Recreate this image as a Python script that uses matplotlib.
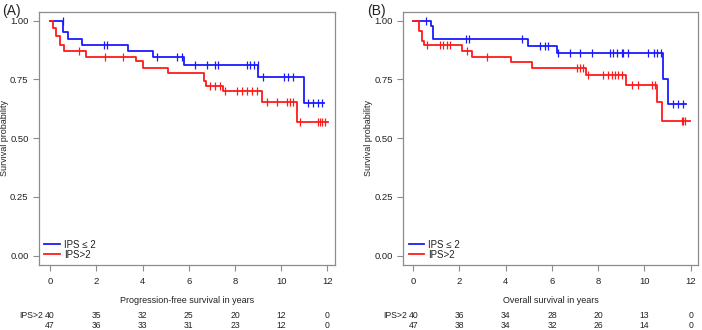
import numpy as np
import matplotlib
matplotlib.use("Agg")
import matplotlib.pyplot as plt
from matplotlib import transforms

plt.rcParams['font.family'] = ['Liberation Sans', 'DejaVu Sans']

# (A) progression-free survival
pfs_low_t = [0, 0.55, 0.79, 1.40, 3.36, 4.47, 5.78, 9.01, 10.99, 11.83]
pfs_low_s = [1.0, 0.95, 0.922, 0.896, 0.871, 0.844, 0.811, 0.759, 0.648, 0.648]
pfs_low_cens = [0.54, 2.35, 2.45, 4.61, 5.48, 5.70, 6.27, 6.78, 7.14, 7.28,
                8.51, 8.65, 8.83, 8.99, 9.23, 10.10, 10.31, 10.53,
                11.18, 11.39, 11.61, 11.76]
pfs_high_t = [0, 0.14, 0.27, 0.45, 0.60, 1.56, 3.72, 4.04, 5.12, 6.66, 6.74,
              7.47, 9.19, 10.70, 12.04]
pfs_high_s = [1.0, 0.967, 0.936, 0.894, 0.872, 0.847, 0.826, 0.80, 0.776,
              0.745, 0.723, 0.702, 0.655, 0.57, 0.57]
pfs_high_cens = [1.25, 2.38, 3.15, 6.92, 7.14, 7.36, 7.58, 8.08, 8.29, 8.51,
                 8.73, 8.94, 9.38, 9.81, 10.24, 10.38, 10.53, 10.82,
                 11.61, 11.68, 11.76, 11.90]
pfs_risk_low = [40, 35, 32, 25, 20, 12, 0]
pfs_risk_high = [47, 36, 33, 31, 23, 12, 0]

# (B) overall survival
os_low_t = [0, 0.76, 0.87, 4.95, 6.23, 10.82, 11.03, 11.80]
os_low_s = [1.0, 0.975, 0.92, 0.892, 0.864, 0.752, 0.645, 0.645]
os_low_cens = [0.55, 2.28, 2.42, 4.69, 5.48, 5.70, 5.84, 6.27, 6.78, 7.21,
               7.72, 8.51, 8.65, 8.80, 9.01, 9.09, 9.30, 10.17, 10.39,
               10.53, 10.70, 11.25, 11.47, 11.68]
os_high_t = [0, 0.26, 0.40, 0.48, 2.09, 2.52, 4.23, 5.12, 7.47, 9.20,
             10.56, 10.75, 11.97]
os_high_s = [1.0, 0.957, 0.915, 0.894, 0.87, 0.847, 0.823, 0.797, 0.77,
             0.727, 0.653, 0.574, 0.574]
os_high_cens = [0.61, 1.15, 1.27, 1.44, 1.59, 2.31, 3.17, 7.07, 7.21, 7.36,
                7.57, 8.22, 8.44, 8.58, 8.73, 8.87, 9.01, 9.45, 9.74,
                10.31, 10.46, 11.61, 11.68, 11.76]
os_risk_low = [40, 36, 34, 28, 20, 13, 0]
os_risk_high = [47, 38, 34, 32, 26, 14, 0]

risk_times = [0, 2, 4, 6, 8, 10, 12]
BLUE = '#1a1aff'
RED = '#ff1a1a'
TXT = '#222222'
GREY = '#8c8c8c'

fig = plt.figure(figsize=(7.02, 3.30), dpi=100)


def km_panel(rect, letter, xlabel, low, high, risk_low, risk_high, xlim):
    ax = fig.add_axes(rect)
    lines = []
    for (t, s, c), col in zip([low, high], [BLUE, RED]):
        ln, = ax.step(t, s, where='post', color=col, lw=1.3)
        lines.append(ln)
        idx = np.searchsorted(t, c, side='right') - 1
        ax.plot(c, np.array(s)[idx], ls='none', marker='|', ms=6,
                mew=0.9, color=col)
    ax.set_xlim(*xlim)
    ax.set_ylim(-0.040, 1.037)
    ax.set_xticks(risk_times)
    ax.set_yticks([0, 0.25, 0.5, 0.75, 1.0])
    ax.set_yticklabels(['0.00', '0.25', '0.50', '0.75', '1.00'])
    ax.tick_params(labelsize=6.8, colors=GREY, labelcolor=TXT, length=4,
                   width=0.8)
    ax.tick_params(axis='x', pad=5)
    for sp in ax.spines.values():
        sp.set_color(GREY)
        sp.set_linewidth(0.9)
    ax.set_ylabel('Survival probability', fontsize=6.5, color=TXT,
                  labelpad=1)
    ax.set_xlabel(xlabel, fontsize=6.5, color=TXT, labelpad=7)
    leg = ax.legend(lines, ['IPS ≤ 2', 'IPS>2'], loc='lower left',
                    frameon=False, fontsize=7, handlelength=1.6,
                    labelspacing=0.0, borderaxespad=0.15,
                    handletextpad=0.4)
    for txt in leg.get_texts():
        txt.set_color(TXT)
    fig.text(rect[0] - 0.052, 0.967, letter, fontsize=10, color=TXT,
             ha='left', va='center')
    tr = transforms.blended_transform_factory(ax.transData, fig.transFigure)
    fig.text(rect[0] - 0.028, 0.043, 'IPS>2', fontsize=6.2, color=TXT,
             ha='left', va='center')
    for x, a, b in zip(risk_times, risk_low, risk_high):
        ax.text(x, 0.043, str(a), transform=tr, fontsize=6.2, color=TXT,
                ha='center', va='center')
        ax.text(x, 0.015, str(b), transform=tr, fontsize=6.2, color=TXT,
                ha='center', va='center')
    return ax


km_panel([0.0556, 0.197, 0.4217, 0.767], '(A)',
         'Progression-free survival in years',
         (pfs_low_t, pfs_low_s, pfs_low_cens),
         (pfs_high_t, pfs_high_s, pfs_high_cens),
         pfs_risk_low, pfs_risk_high, (-0.476, 12.33))
km_panel([0.5745, 0.197, 0.4200, 0.767], '(B)',
         'Overall survival in years',
         (os_low_t, os_low_s, os_low_cens),
         (os_high_t, os_high_s, os_high_cens),
         os_risk_low, os_risk_high, (-0.43, 12.32))

fig.savefig('out.png', dpi=100)
